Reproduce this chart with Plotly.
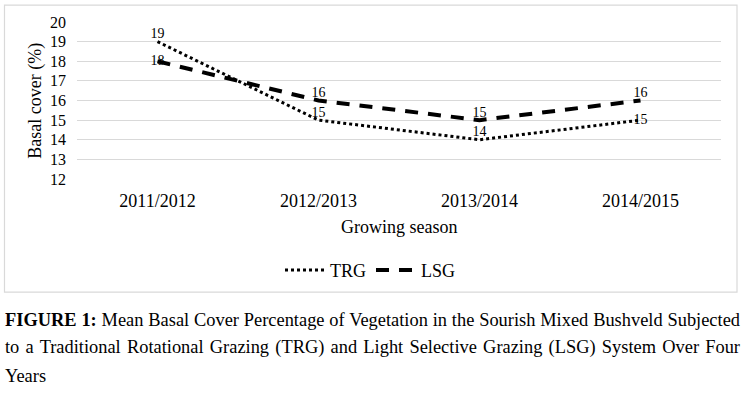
import plotly.graph_objects as go

seasons = ["2011/2012", "2012/2013", "2013/2014", "2014/2015"]
trg = [19, 15, 14, 15]
lsg = [18, 16, 15, 16]
y_ticks = [12, 13, 14, 15, 16, 17, 18, 19, 20]
caption_lines = [
    "<b>FIGURE 1:</b> Mean Basal Cover Percentage of Vegetation in the Sourish Mixed Bushveld Subjected",
    "to a Traditional Rotational Grazing (TRG) and Light Selective Grazing (LSG) System Over Four",
    "Years",
]

W, H = 747, 397
L, R, T, B = 77, 721, 22, 179.5
FONT = "Liberation Serif, Times New Roman, serif"


def px(x):
    return (x - L) / (R - L)


def py(y):
    return (B - y) / (B - T)


fig = go.Figure()
fig.add_trace(go.Scatter(
    x=seasons, y=trg, name="TRG", mode="lines+text",
    line=dict(color="black", width=3, dash="dot"),
    text=[str(v) for v in trg],
    textposition=["top center", "top center", "top center", "middle center"],
    textfont=dict(family=FONT, size=14, color="black"),
))
fig.add_trace(go.Scatter(
    x=seasons, y=lsg, name="LSG", mode="lines+text",
    line=dict(color="black", width=4, dash="13px,10px"),
    text=[str(v) for v in lsg],
    textposition=["middle center", "top center", "top center", "top center"],
    textfont=dict(family=FONT, size=14, color="black"),
))

annotations = [
    dict(text="Growing season", x=px(399), y=py(228), xref="paper", yref="paper",
         showarrow=False, font=dict(family=FONT, size=18, color="black"),
         xanchor="center", yanchor="middle"),
    dict(text="Basal cover (%)", x=px(36), y=py(101), xref="paper", yref="paper",
         showarrow=False, textangle=-90, font=dict(family=FONT, size=18, color="black"),
         xanchor="center", yanchor="middle"),
]
for i, line in enumerate(caption_lines):
    annotations.append(dict(
        text=line, x=px(3), y=py(320.5 + i * 28.5), xref="paper", yref="paper",
        showarrow=False, font=dict(family=FONT, size=18.4, color="black"),
        xanchor="left", yanchor="middle", align="left"))

fig.update_layout(
    width=W, height=H,
    margin=dict(l=L, r=W - R, t=T, b=H - B, pad=0),
    paper_bgcolor="white", plot_bgcolor="white",
    showlegend=True,
    legend=dict(orientation="h", x=px(280), y=py(271), xanchor="left", yanchor="middle",
                font=dict(family=FONT, size=18, color="black"),
                bgcolor="rgba(0,0,0,0)", itemwidth=40),
    annotations=annotations,
    shapes=[dict(type="rect", xref="paper", yref="paper",
                 x0=px(4.5), x1=px(737), y0=py(5), y1=py(293),
                 line=dict(color="#d9d9d9", width=1.2), fillcolor="rgba(0,0,0,0)",
                 layer="below")],
)
fig.update_xaxes(
    type="category", range=[-0.5, 3.5], showgrid=False, zeroline=False,
    showline=False, ticks="", ticklabelstandoff=9,
    tickfont=dict(family=FONT, size=18, color="black"),
)
fig.update_yaxes(
    range=[12, 20], tickvals=y_ticks, showgrid=True, gridcolor="#d9d9d9", gridwidth=1,
    zeroline=False, showline=False, ticks="", ticklabelstandoff=10,
    tickfont=dict(family=FONT, size=16, color="black"),
)

justify_js = """
document.body.style.margin='0';
var texts = document.querySelectorAll('text.annotation-text');
texts.forEach(function(t){
  var s = t.textContent;
  if (s.indexOf('FIGURE 1') === 0 || s.indexOf('to a Traditional') === 0) {
    var r = t.getBoundingClientRect();
    var n = (s.match(/ /g) || []).length;
    if (n > 0) {
      var ws = (740 - r.right) / n;
      t.style.wordSpacing = ws + 'px';
    }
  }
});
"""

fig.write_html("out.html", post_script=justify_js, config={"displayModeBar": False})
